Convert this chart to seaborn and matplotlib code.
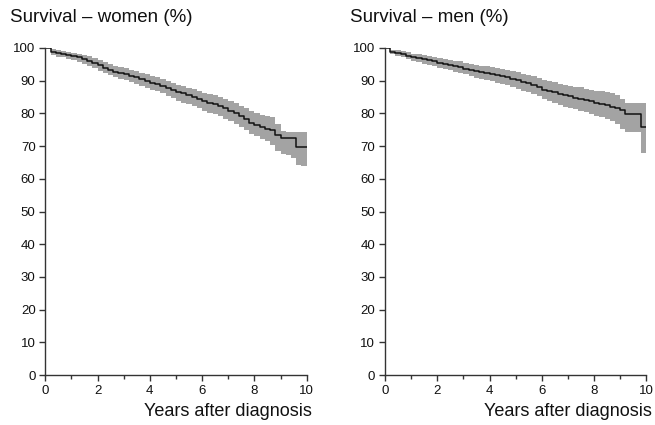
import matplotlib
matplotlib.use("Agg")
import matplotlib.pyplot as plt
import seaborn as sns
import pandas as pd
from matplotlib.ticker import MultipleLocator

# ---- data (every 0.2 years) ----
years = [0.0, 0.2, 0.4, 0.6, 0.8, 1.0, 1.2, 1.4, 1.6, 1.8,
         2.0, 2.2, 2.4, 2.6, 2.8, 3.0, 3.2, 3.4, 3.6, 3.8,
         4.0, 4.2, 4.4, 4.6, 4.8, 5.0, 5.2, 5.4, 5.6, 5.8,
         6.0, 6.2, 6.4, 6.6, 6.8, 7.0, 7.2, 7.4, 7.6, 7.8,
         8.0, 8.2, 8.4, 8.6, 8.8, 9.0, 9.2, 9.4, 9.6, 9.8, 10.0]

women_s = [100, 98.9, 98.5, 98.2, 97.8, 97.5, 97.1, 96.6, 96.1, 95.5,
           94.7, 94.0, 93.4, 92.8, 92.4, 92.0, 91.5, 91.0, 90.5, 89.9,
           89.4, 89.0, 88.5, 87.9, 87.3, 86.5, 86.1, 85.6, 85.1, 84.4,
           83.7, 83.2, 82.8, 82.3, 81.6, 80.8, 80.0, 79.2, 78.2, 77.1,
           76.5, 75.7, 75.3, 74.9, 73.3, 72.5, 72.4, 72.4, 69.6, 69.6, 69.6]
women_lo = [100, 98.0, 97.4, 97.1, 96.7, 96.3, 95.7, 95.1, 94.6, 94.0,
            93.1, 92.3, 91.6, 91.0, 90.5, 90.1, 89.5, 89.0, 88.4, 87.8,
            87.2, 86.7, 86.1, 85.4, 84.6, 83.8, 83.3, 82.8, 82.3, 81.6,
            80.8, 80.2, 79.7, 79.1, 78.4, 77.6, 76.8, 75.9, 74.9, 73.8,
            73.2, 72.3, 71.5, 70.4, 68.4, 67.6, 67.2, 66.5, 64.2, 64.0, 64.0]
women_hi = [100, 99.6, 99.4, 99.2, 98.9, 98.6, 98.3, 97.9, 97.5, 97.0,
            96.3, 95.6, 95.1, 94.6, 94.2, 93.8, 93.4, 92.9, 92.5, 91.9,
            91.4, 91.0, 90.6, 90.0, 89.4, 88.7, 88.3, 87.9, 87.5, 86.9,
            86.3, 85.9, 85.5, 85.1, 84.5, 83.8, 83.1, 82.4, 81.5, 80.6,
            80.1, 79.4, 79.2, 79.0, 76.8, 74.6, 74.4, 74.4, 74.4, 74.4, 74.4]

men_s = [100, 98.9, 98.5, 98.2, 97.7, 97.2, 96.9, 96.5, 96.3, 95.9,
         95.5, 95.1, 94.8, 94.4, 94.1, 93.7, 93.2, 92.9, 92.6, 92.3,
         92.0, 91.7, 91.4, 91.0, 90.6, 90.1, 89.6, 89.2, 88.6, 88.0,
         87.3, 86.8, 86.4, 85.8, 85.5, 85.2, 84.8, 84.5, 84.1, 83.7,
         83.2, 82.9, 82.5, 82.1, 81.6, 81.0, 79.8, 79.8, 79.8, 75.9, 75.9]
men_lo = [100, 98.1, 97.6, 97.2, 96.7, 96.1, 95.7, 95.2, 94.9, 94.5,
          94.0, 93.6, 93.2, 92.7, 92.3, 91.9, 91.3, 90.9, 90.6, 90.2,
          89.8, 89.4, 89.0, 88.6, 88.2, 87.6, 87.0, 86.5, 85.8, 85.2,
          84.3, 83.7, 83.2, 82.5, 82.1, 81.7, 81.2, 80.8, 80.3, 79.8,
          79.2, 78.8, 78.3, 77.8, 76.8, 75.2, 74.4, 74.4, 74.4, 67.8, 67.8]
men_hi = [100, 99.5, 99.3, 99.1, 98.7, 98.3, 98.1, 97.8, 97.6, 97.3,
          97.0, 96.6, 96.4, 96.1, 95.9, 95.5, 95.1, 94.9, 94.6, 94.4,
          94.2, 93.9, 93.7, 93.4, 93.0, 92.6, 92.2, 91.8, 91.3, 90.8,
          90.2, 89.8, 89.5, 89.0, 88.7, 88.5, 88.2, 88.0, 87.6, 87.3,
          86.9, 86.7, 86.4, 86.1, 85.5, 84.4, 83.3, 83.3, 83.3, 83.3, 83.3]

titles = ["Survival \u2013 women (%)", "Survival \u2013 men (%)"]
xlabel = "Years after diagnosis"

sns.set_style("white")
plt.rcParams["font.family"] = ["Liberation Sans", "DejaVu Sans"]

fig = plt.figure(figsize=(6.55, 4.25), dpi=100)
lefts = [45.3 / 655, 385 / 655]
w = 261.4 / 655
b = 1 - 375 / 425
h = 327 / 425

series = [(women_s, women_lo, women_hi), (men_s, men_lo, men_hi)]
for i, (s, lo, hi) in enumerate(series):
    ax = fig.add_axes([lefts[i], b, w, h])
    ax.fill_between(years, lo, hi, step="post", color="#a3a3a3", linewidth=0)
    df = pd.DataFrame({"t": years, "s": s})
    sns.lineplot(data=df, x="t", y="s", ax=ax, drawstyle="steps-post",
                 color="#111111", linewidth=1.1)
    ax.set_xlim(0, 10)
    ax.set_ylim(0, 100)
    ax.xaxis.set_major_locator(MultipleLocator(2))
    ax.xaxis.set_minor_locator(MultipleLocator(1))
    ax.yaxis.set_major_locator(MultipleLocator(10))
    for side in ["top", "right"]:
        ax.spines[side].set_visible(False)
    for side in ["left", "bottom"]:
        ax.spines[side].set_color("#333333")
        ax.spines[side].set_linewidth(1.0)
    ax.tick_params(axis="both", which="both", direction="out", length=4,
                   width=1.0, color="#333333", labelsize=9.5, pad=3,
                   bottom=True, left=True, labelcolor="#111111")
    ax.tick_params(axis="x", which="minor", length=3)
    ax.set_xlabel("")
    ax.set_ylabel("")
    x0 = lefts[i] * 655
    fig.text((x0 - 35) / 655, 1 - 17 / 425, titles[i], fontsize=13.5,
             ha="left", va="center", color="#111111")
    fig.text((x0 + 262 + 5) / 655, 1 - 411 / 425, xlabel, fontsize=13,
             ha="right", va="center", color="#111111")

fig.savefig("out.png", dpi=100)
